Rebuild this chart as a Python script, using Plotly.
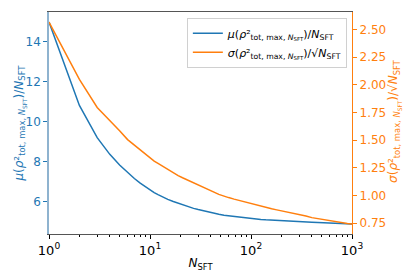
import plotly.graph_objects as go

# Data
n_sft = [1, 2, 3, 4, 5, 6, 7, 8, 9, 10, 11, 12, 13, 14, 15, 17, 19, 21, 24, 27,
         30, 34, 38, 43, 48, 54, 60, 68, 76, 85, 95, 110, 125, 140, 160, 180, 200,
         230, 260, 300, 350, 400, 460, 530, 600, 700, 800, 900, 1000]
mu_norm = [14.97, 10.80, 9.19, 8.36, 7.83, 7.45, 7.15, 6.92, 6.73, 6.57, 6.45,
           6.35, 6.26, 6.18, 6.11, 6.00, 5.91, 5.83, 5.74, 5.66, 5.60, 5.53, 5.47,
           5.41, 5.37, 5.32, 5.29, 5.25, 5.22, 5.19, 5.16, 5.13, 5.11, 5.09, 5.07,
           5.05, 5.04, 5.02, 5.005, 4.99, 4.975, 4.965, 4.95, 4.94, 4.93, 4.915,
           4.905, 4.895, 4.885]
sigma_norm = [2.567, 2.05, 1.795, 1.68, 1.585, 1.505, 1.455, 1.41, 1.367, 1.335, 1.31,
              1.29, 1.27, 1.25, 1.235, 1.205, 1.18, 1.16, 1.135, 1.115, 1.09, 1.072,
              1.05, 1.03, 1.01, 0.993, 0.981, 0.967, 0.955, 0.942, 0.93, 0.915, 0.90,
              0.89, 0.88, 0.87, 0.862, 0.85, 0.84, 0.827, 0.815, 0.80, 0.79, 0.778,
              0.77, 0.76, 0.752, 0.746, 0.743]

x_tickvals = [1, 10, 100, 1000]
x_ticktext = ["10<sup>0</sup>", "10<sup>1</sup>", "10<sup>2</sup>", "10<sup>3</sup>"]
y1_tickvals = [6, 8, 10, 12, 14]
y2_tickvals = [0.75, 1.0, 1.25, 1.5, 1.75, 2.0, 2.25, 2.5]
y2_ticktext = ["0.75", "1.00", "1.25", "1.50", "1.75", "2.00", "2.25", "2.50"]

BLUE = "#1f77b4"
ORANGE = "#ff7f0e"
FONT = "DejaVu Sans"

mu_label = "<i>μ</i>(<i>ρ</i>²<sub>tot, max, <i>N</i><sub>SFT</sub></sub>)/<i>N</i><sub>SFT</sub>"
sig_label = "<i>σ</i>(<i>ρ</i>²<sub>tot, max, <i>N</i><sub>SFT</sub></sub>)/√<i>N</i><sub>SFT</sub>"

minor_vals = [m * d for d in (1, 10, 100) for m in range(2, 10)]

fig = go.Figure()
fig.add_trace(go.Scatter(x=n_sft, y=mu_norm, mode="lines", name=mu_label,
                         line=dict(color=BLUE, width=1.5), yaxis="y"))
fig.add_trace(go.Scatter(x=n_sft, y=sigma_norm, mode="lines", name=sig_label,
                         line=dict(color=ORANGE, width=1.5), yaxis="y2"))

fig.update_layout(
    width=415, height=277,
    margin=dict(l=49, r=63, t=12, b=43, autoexpand=False),
    paper_bgcolor="white", plot_bgcolor="white",
    font=dict(family=FONT, size=12, color="black"),
    showlegend=True,
    legend=dict(x=0.983, y=0.974, xanchor="right", yanchor="top",
                bgcolor="rgba(255,255,255,0.8)", bordercolor="#d0d0d0",
                borderwidth=1, font=dict(size=11, family=FONT),
                itemwidth=30, tracegroupgap=0),
    xaxis=dict(type="log", range=[0, 3], tickvals=x_tickvals, ticktext=x_ticktext,
               automargin=False,
               ticks="outside", ticklen=4, tickcolor="black",
               tickfont=dict(size=13),
               showgrid=False, zeroline=False,
               showline=True, linecolor="#555555", linewidth=1, mirror=True,
               minor=dict(tickvals=minor_vals, ticks="outside", ticklen=2,
                          tickcolor="black", showgrid=False),
               title=dict(text="<i>N</i><sub>SFT</sub>", standoff=2,
                          font=dict(size=12, color="black"))),
    yaxis=dict(range=[4.38, 15.47], tickvals=y1_tickvals,
               automargin=False,
               ticks="outside", ticklen=4, tickcolor=BLUE,
               tickfont=dict(color=BLUE, size=12),
               showgrid=False, zeroline=False,
               showline=True, linecolor="#8fb3cf", linewidth=1.5),
    yaxis2=dict(range=[0.652, 2.658], tickvals=y2_tickvals, ticktext=y2_ticktext,
                automargin=False,
                overlaying="y", side="right",
                ticks="outside", ticklen=4, tickcolor=ORANGE,
                tickfont=dict(color=ORANGE, size=12),
                showgrid=False, zeroline=False,
                showline=True, linecolor=ORANGE, linewidth=1.2),
    annotations=[
        dict(text=mu_label, textangle=-90, xref="paper", yref="paper",
             x=-0.097, y=0.5, xanchor="center", yanchor="middle",
             showarrow=False, font=dict(color=BLUE, size=12, family=FONT)),
        dict(text=sig_label, textangle=-90, xref="paper", yref="paper",
             x=1.139, y=0.51, xanchor="center", yanchor="middle",
             showarrow=False, font=dict(color=ORANGE, size=12, family=FONT)),
    ],
)

fig.write_html("out.html", config={"displayModeBar": False},
               post_script="document.body.style.margin='0';")
